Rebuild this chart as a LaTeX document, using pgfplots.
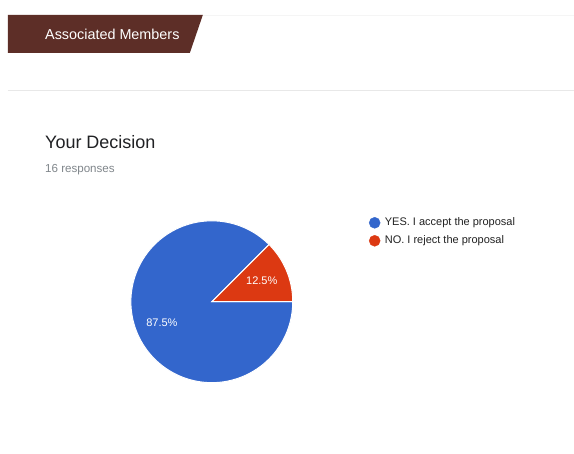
\documentclass[border=0pt]{standalone}
\usepackage{pgfplots}
\pgfplotsset{compat=1.18}
\usepackage{pgfplotstable}
\usepackage{fontspec}
\setmainfont{Liberation Sans}
\definecolor{gblue}{HTML}{3366CC}
\definecolor{gred}{HTML}{DC3912}
\definecolor{banner}{HTML}{5D2E27}
\definecolor{linegray}{HTML}{E8E8E8}
\definecolor{subgray}{HTML}{80868B}
\definecolor{titleblack}{HTML}{202124}
\definecolor{legtext}{HTML}{222222}

\pgfplotstableread{
label value
YES 14
NO 2
}\votes

\begin{document}%
\begin{tikzpicture}
\pgfplotstablegetelem{0}{value}\of\votes \let\yesval\pgfplotsretval
\pgfplotstablegetelem{1}{value}\of\votes \let\noval\pgfplotsretval
\pgfmathsetmacro\total{\yesval+\noval}
\pgfmathsetmacro\noang{360*\noval/\total}
\pgfmathsetmacro\nopct{100*\noval/\total}
\pgfmathsetmacro\yespct{100*\yesval/\total}
\begin{axis}[
  scale only axis, width=574bp, height=454bp,
  xmin=0, xmax=574, ymin=0, ymax=454, y dir=reverse,
  hide axis, clip=false,
  /pgf/number format/assume math mode=true,
]
% background
\addplot[fill=white, draw=none] coordinates {(0,0) (574,0) (574,454) (0,454)} -- cycle;
% card lines
\addplot[draw=black!4, line width=1bp] coordinates {(203,15.5) (574,15.5)};
\addplot[draw=linegray, line width=1bp] coordinates {(8,91) (574,91)};
% banner
\addplot[fill=banner, draw=none] coordinates {(8,15) (203,15) (190,53) (8,53)} -- cycle;
\node[anchor=west, text=white, font=\fontsize{14.4bp}{16bp}\selectfont, inner sep=0pt] at (axis cs:45,34) {Associated Members};
% title
\node[anchor=west, text=titleblack, font=\fontsize{18bp}{20bp}\selectfont, inner sep=0pt] at (axis cs:45,142) {Your Decision};
\node[anchor=west, text=subgray, font=\fontsize{11.6bp}{14bp}\selectfont, inner sep=0pt] at (axis cs:45,170) {16 responses};
% pie slices
\addplot[fill=gblue, draw=white, line width=1bp, domain=\noang:360, samples=120, variable=\t]
  ({212+81*cos(\t)},{302-81*sin(\t)}) -- (axis cs:212,302) -- cycle;
\addplot[fill=gred, draw=white, line width=1bp, domain=0:\noang, samples=30, variable=\t]
  ({212+81*cos(\t)},{302-81*sin(\t)}) -- (axis cs:212,302) -- cycle;
% slice labels
\node[text=white, font=\fontsize{11bp}{13bp}\selectfont, inner sep=0pt] at (axis cs:262,281) {\pgfmathprintnumber[fixed,precision=1,fixed zerofill]{\nopct}\%};
\node[text=white, font=\fontsize{11bp}{13bp}\selectfont, inner sep=0pt] at (axis cs:162,323) {\pgfmathprintnumber[fixed,precision=1,fixed zerofill]{\yespct}\%};
% legend
\addplot[only marks, mark=*, mark size=5.5bp, gblue] coordinates {(375,223)};
\addplot[only marks, mark=*, mark size=5.5bp, gred] coordinates {(375,241)};
\node[anchor=west, text=legtext, font=\fontsize{11bp}{13bp}\selectfont, inner sep=0pt] at (axis cs:385,223) {YES. I accept the proposal};
\node[anchor=west, text=legtext, font=\fontsize{11bp}{13bp}\selectfont, inner sep=0pt] at (axis cs:385,241) {NO. I reject the proposal};
\end{axis}
\end{tikzpicture}%
\end{document}
